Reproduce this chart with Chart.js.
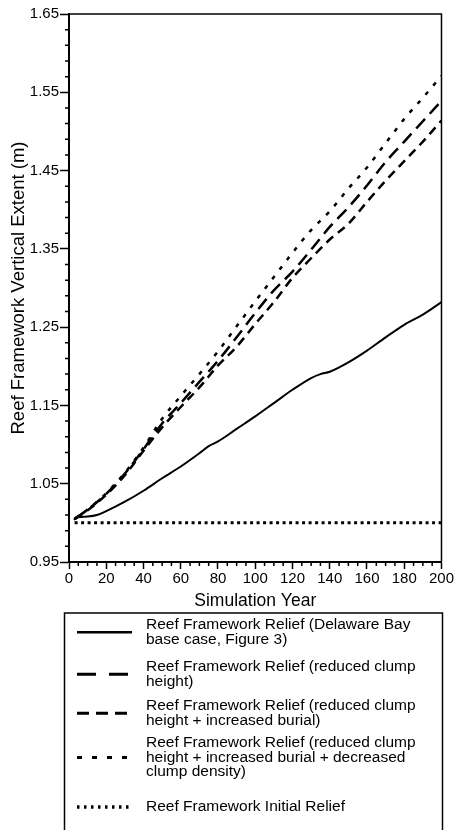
<!DOCTYPE html>
<html>
<head>
<meta charset="utf-8">
<script src="https://cdn.jsdelivr.net/npm/chart.js@4"></script>
<style>
  html, body { margin: 0; padding: 0; background: #fff; }
  #wrap { position: relative; width: 455px; height: 830px; }
</style>
</head>
<body>
<div id="wrap"><canvas id="reliefChart"></canvas></div>
<script>
// Values
const solidYears = [2.5, 5, 10, 15, 20, 30, 40, 50, 60, 70, 75, 80, 90, 100, 110, 120, 130, 135, 140, 150, 160, 170, 180, 190, 200];
const baseCase = [1.004, 1.007, 1.008, 1.010, 1.015, 1.027, 1.041, 1.057, 1.072, 1.089, 1.098, 1.104, 1.120, 1.136, 1.153, 1.170, 1.185, 1.190, 1.193, 1.205, 1.220, 1.237, 1.253, 1.266, 1.282];

const years = [3, 10, 20, 30, 40, 50, 60, 70, 80, 90, 100, 110, 120, 130, 140, 150, 160, 170, 180, 190, 200];
const reducedHeight = [1.005, 1.017, 1.037, 1.063, 1.094, 1.127, 1.153, 1.180, 1.207, 1.237, 1.268, 1.297, 1.321, 1.349, 1.378, 1.403, 1.431, 1.461, 1.487, 1.513, 1.539];
const increasedBurial = [1.005, 1.016, 1.036, 1.061, 1.092, 1.122, 1.148, 1.173, 1.201, 1.225, 1.254, 1.282, 1.313, 1.338, 1.362, 1.382, 1.410, 1.437, 1.462, 1.487, 1.514];
const decreasedDensity = [1.005, 1.017, 1.038, 1.064, 1.096, 1.133, 1.162, 1.190, 1.219, 1.251, 1.283, 1.314, 1.345, 1.374, 1.398, 1.427, 1.454, 1.485, 1.516, 1.543, 1.571];

const initialYears = [3, 200];
const initialRelief = [1.0, 1.0];

const yLabels = ["0.95", "1.05", "1.15", "1.25", "1.35", "1.45", "1.55", "1.65"];
const xLabels = [0, 20, 40, 60, 80, 100, 120, 140, 160, 180, 200];

const legendLabels = [
  ["Reef Framework Relief (Delaware Bay", "base case, Figure 3)"],
  ["Reef Framework Relief (reduced clump", "height)"],
  ["Reef Framework Relief (reduced clump", "height + increased burial)"],
  ["Reef Framework Relief (reduced clump", "height + increased burial + decreased", "clump density)"],
  ["Reef Framework Initial Relief"]
];

const FONT = "'Liberation Sans', Arial, Helvetica, sans-serif";

const pts = (xs, ys) => xs.map((x, i) => ({ x: x, y: ys[i] }));

// minor ticks: every 0.02 on y, every 5 years on x
const yTickVals = [];
for (let k = 0; k <= 35; k++) yTickVals.push(+(0.95 + k * 0.02).toFixed(2));
const xTickVals = [];
for (let k = 0; k <= 40; k++) xTickVals.push(k * 5);

const isYMajor = v => yLabels.includes(v.toFixed(2));
const isXMajor = v => xLabels.includes(Math.round(v));

const series = [
  { label: legendLabels[0], data: pts(solidYears, baseCase), dash: [], legendDash: [], width: 2 },
  { label: legendLabels[1], data: pts(years, reducedHeight), dash: [13, 7], legendDash: [19, 13], width: 2.5 },
  { label: legendLabels[2], data: pts(years, increasedBurial), dash: [9, 6], legendDash: [12, 7], width: 2.5 },
  { label: legendLabels[3], data: pts(years, decreasedDensity), dash: [4, 8], legendDash: [5, 10], width: 2.5 },
  { label: legendLabels[4], data: pts(initialYears, initialRelief), dash: [3, 3.5], legendDash: [2.5, 4.5], width: 3 }
];

// frame (top/right), minor ticks and the boxed legend
const extras = {
  id: "extras",
  afterDraw(chart) {
    const ctx = chart.ctx;
    const a = chart.chartArea;
    const xs = chart.scales.x, ys = chart.scales.y;
    ctx.save();
    ctx.strokeStyle = "#000";
    ctx.lineWidth = 1.5;
    ctx.beginPath();
    ctx.moveTo(a.left, a.top);
    ctx.lineTo(a.right, a.top);
    ctx.lineTo(a.right, a.bottom);
    ctx.stroke();

    ctx.beginPath();
    ys.ticks.forEach(t => {
      if (!isYMajor(t.value)) {
        const y = ys.getPixelForValue(t.value);
        ctx.moveTo(a.left - 4, y);
        ctx.lineTo(a.left, y);
      }
    });
    xs.ticks.forEach(t => {
      if (!isXMajor(t.value)) {
        const x = xs.getPixelForValue(t.value);
        ctx.moveTo(x, a.bottom);
        ctx.lineTo(x, a.bottom + 4);
      }
    });
    ctx.stroke();

    // legend box
    ctx.strokeRect(64.5, 613, 378, 240);
    const rowTop = [625, 667, 706, 743, 807];
    const lineGap = 14.5;
    ctx.font = "15.5px " + FONT;
    ctx.fillStyle = "#000";
    ctx.textBaseline = "middle";
    ctx.textAlign = "left";
    series.forEach((s, i) => {
      const lines = s.label;
      lines.forEach((txt, j) => ctx.fillText(txt, 146, rowTop[i] + j * lineGap));
      const yMid = rowTop[i] + (lines.length - 1) * lineGap / 2;
      ctx.beginPath();
      ctx.setLineDash(s.legendDash);
      ctx.lineWidth = s.width + 0.5;
      ctx.moveTo(77, yMid);
      ctx.lineTo(132, yMid);
      ctx.stroke();
    });
    ctx.setLineDash([]);
    ctx.restore();
  }
};

const ctx = document.getElementById("reliefChart").getContext("2d");

new Chart(ctx, {
  type: "line",
  data: {
    datasets: series.map(s => ({
      label: s.label.join(" "),
      data: s.data,
      borderColor: "#000",
      borderWidth: s.width,
      borderDash: s.dash,
      pointRadius: 0,
      fill: false,
      cubicInterpolationMode: "monotone"
    }))
  },
  options: {
    responsive: true,
    maintainAspectRatio: false,
    animation: false,
    layout: { padding: { top: 14, right: 13, left: 0, bottom: 218 } },
    plugins: { legend: { display: false }, tooltip: { enabled: false } },
    scales: {
      x: {
        type: "linear",
        min: 0,
        max: 200,
        afterBuildTicks: s => { s.ticks = xTickVals.map(v => ({ value: v })); },
        afterFit: s => { s.height = 50; },
        ticks: {
          autoSkip: false,
          maxRotation: 0,
          padding: 1,
          color: "#000",
          font: { family: FONT, size: 15 },
          callback: v => isXMajor(v) ? String(v) : ""
        },
        grid: {
          drawOnChartArea: false,
          tickLength: 7,
          tickWidth: 1.5,
          tickColor: c => (c.tick && isXMajor(c.tick.value)) ? "#000" : "rgba(0,0,0,0)"
        },
        border: { color: "#000", width: 2 },
        title: {
          display: true,
          text: "Simulation Year",
          color: "#000",
          font: { family: FONT, size: 17.5 },
          padding: { top: 0, bottom: 0 }
        }
      },
      y: {
        type: "linear",
        min: 0.95,
        max: 1.65,
        afterBuildTicks: s => { s.ticks = yTickVals.map(v => ({ value: v })); },
        afterFit: s => { s.width = 69; },
        ticks: {
          autoSkip: false,
          padding: 1,
          color: "#000",
          font: { family: FONT, size: 15 },
          callback: v => isYMajor(v) ? v.toFixed(2) : ""
        },
        grid: {
          drawOnChartArea: false,
          tickLength: 9,
          tickWidth: 1.5,
          tickColor: c => (c.tick && isYMajor(c.tick.value)) ? "#000" : "rgba(0,0,0,0)"
        },
        border: { color: "#000", width: 2 },
        title: {
          display: true,
          text: "Reef Framework Vertical Extent (m)",
          color: "#000",
          font: { family: FONT, size: 18.5 },
          padding: { top: 8, bottom: 0 }
        }
      }
    }
  },
  plugins: [extras]
});
</script>
</body>
</html>
